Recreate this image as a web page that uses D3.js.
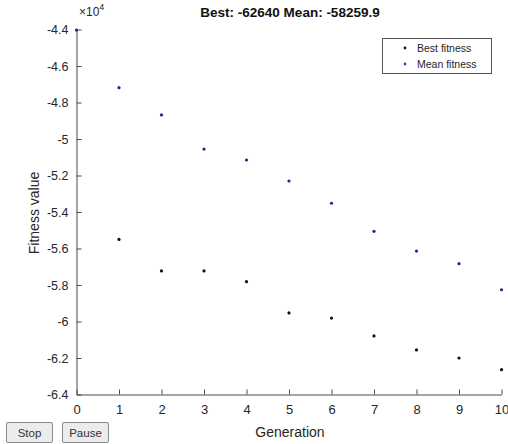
<!DOCTYPE html>
<html lang="en">
<head>
<meta charset="UTF-8">
<script src="https://d3js.org/d3.v7.min.js"></script>
<title>GA fitness</title>
<style>
body { margin: 0; background: #fff; font-family: 'Liberation Sans', Arial, sans-serif; }
svg { display: block; }
svg text { font-family: 'Liberation Sans', Arial, sans-serif; }
.axis path, .axis line { stroke: #4d4d4d; }
.axis text { fill: #262626; font-size: 12.5px; }
.btn { fill: #ececec; stroke: #8a8a8a; }
</style>
</head>
<body>
<svg id="canvas"></svg>
<script>
// generations and fitness values
let generations = [0, 1, 2, 3, 4, 5, 6, 7, 8, 9, 10]
let bestGen = [1, 2, 3, 4, 5, 6, 7, 8, 9, 10]
let bestFitness = [-55500, -57230, -57230, -57820, -59530, -59810, -60790, -61560, -62000, -62640]
let meanFitness = [-44030, -47190, -48680, -50550, -51150, -52300, -53520, -55060, -56140, -56830, -58259.9]
let yTicks = [-44000, -46000, -48000, -50000, -52000, -54000, -56000, -58000, -60000, -62000, -64000]
let legendLabels = ['Best fitness', 'Mean fitness']

let width = 508
let height = 444
let plotLeft = 76.5
let plotRight = 501.5
let plotTop = 29.5
let plotBottom = 394.5

let svg = d3.select('#canvas').attr('width', width).attr('height', height)

let xScale = d3.scaleLinear().domain([0, 10]).range([plotLeft, plotRight])
let yScale = d3.scaleLinear().domain([-64000, -44000]).range([plotBottom, plotTop])

let fmt = d => String(Math.round(d / 1e4 * 10) / 10)

let xAxis = d3.axisBottom(xScale).tickValues(generations).tickSizeInner(-5).tickSizeOuter(0).tickPadding(10)
let yAxis = d3.axisLeft(yScale).tickValues(yTicks).tickFormat(fmt).tickSizeInner(-5).tickSizeOuter(0).tickPadding(8)

svg.append('g').attr('class', 'axis').attr('transform', 'translate(0,' + plotBottom + ')').call(xAxis)
    .selectAll('text').style('font-size', '13px')
svg.append('g').attr('class', 'axis').attr('transform', 'translate(' + plotLeft + ',0)').call(yAxis)

// exponent label
let expo = svg.append('text').attr('x', 79).attr('y', 16).attr('font-size', 12).attr('fill', '#262626')
expo.append('tspan').text('\u00d710')
expo.append('tspan').attr('dy', -6).attr('font-size', 9).text('4')

svg.append('text').attr('x', 290).attr('y', 17).attr('text-anchor', 'middle')
    .attr('font-size', 13.5).attr('font-weight', 'bold').attr('fill', '#111')
    .text('Best: -62640 Mean: -58259.9')

svg.append('text').attr('x', 290).attr('y', 437).attr('text-anchor', 'middle')
    .attr('font-size', 14).attr('fill', '#262626').text('Generation')

svg.append('text').attr('transform', 'translate(39,213) rotate(-90)').attr('text-anchor', 'middle')
    .attr('font-size', 14).attr('fill', '#262626').text('Fitness value')

svg.append('g').selectAll('circle').data(meanFitness).enter().append('circle')
    .attr('cx', (d, i) => xScale(generations[i]))
    .attr('cy', d => yScale(d))
    .attr('r', 1.6)
    .attr('fill', '#25258f')

svg.append('g').selectAll('circle').data(bestFitness).enter().append('circle')
    .attr('cx', (d, i) => xScale(bestGen[i]))
    .attr('cy', d => yScale(d))
    .attr('r', 1.6)
    .attr('fill', '#111')

// legend
let legend = svg.append('g')
legend.append('rect').attr('x', 382.5).attr('y', 38.5).attr('width', 109).attr('height', 35)
    .attr('fill', '#fff').attr('stroke', '#555')
let legendColors = ['#111', '#3a3ad0']
legendLabels.forEach((label, i) => {
    legend.append('circle').attr('cx', 405).attr('cy', 48 + i * 16).attr('r', 1.4).attr('fill', legendColors[i])
    legend.append('text').attr('x', 417).attr('y', 52 + i * 16).attr('font-size', 10.5).attr('fill', '#262626').text(label)
})

// buttons
let buttons = ['Stop', 'Pause']
buttons.forEach((b, i) => {
    let bx = 6.5 + i * 56
    svg.append('rect').attr('class', 'btn').attr('x', bx).attr('y', 422.5).attr('width', 46).attr('height', 20).attr('rx', 1.5)
    svg.append('text').attr('x', bx + 23).attr('y', 437).attr('text-anchor', 'middle')
        .attr('font-size', 11.5).attr('fill', '#333').text(b)
})
</script>
</body>
</html>
